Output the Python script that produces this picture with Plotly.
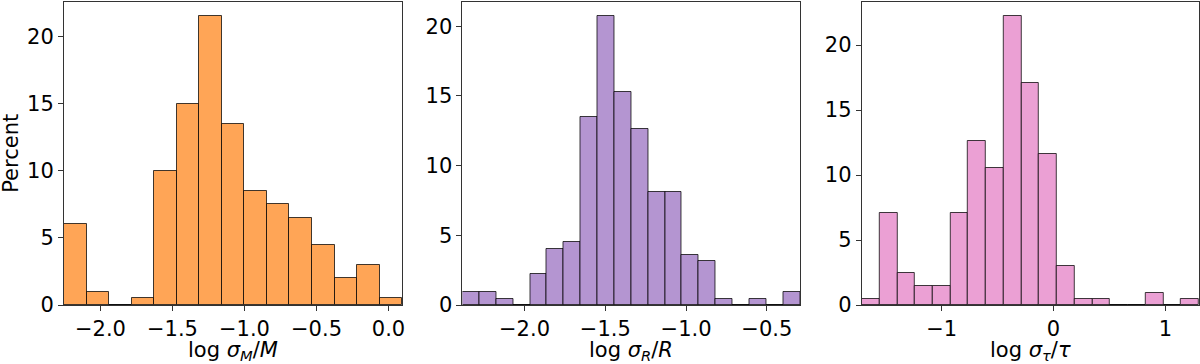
import numpy as np
import plotly.graph_objects as go

# ---- data (percent per bin) ----
mass_range = [-2.253, 0.095]
mass_pct = [6.0, 1.0, 0.0, 0.5, 10.0, 15.0, 21.5, 13.5, 8.5, 7.5, 6.5, 4.5, 2.0, 3.0, 0.5]

radius_range = [-2.384, -0.294]
radius_pct = [0.9, 0.9, 0.45, 0.0, 2.25, 4.05, 4.5, 13.5, 20.7, 15.3, 12.6, 8.1, 8.1,
              3.6, 3.15, 0.45, 0.0, 0.45, 0.0, 0.9]

age_range = [-1.714, 1.30]
age_pct = [0.47, 7.05, 2.5, 1.45, 1.45, 7.05, 12.6, 10.55, 22.2, 17.1, 11.6, 3.0,
           0.47, 0.47, 0.0, 0.0, 0.95, 0.0, 0.47]

mass_ticks = [-2.0, -1.5, -1.0, -0.5, 0.0]
mass_ticktext = ["\u22122.0", "\u22121.5", "\u22121.0", "\u22120.5", "0.0"]
radius_ticks = [-2.0, -1.5, -1.0, -0.5]
radius_ticktext = ["\u22122.0", "\u22121.5", "\u22121.0", "\u22120.5"]
age_ticks = [-1, 0, 1]
age_ticktext = ["\u22121", "0", "1"]
y_ticks = [0, 5, 10, 15, 20]

x_titles = ["log <i>σ<sub>M</sub></i>/<i>M</i>",
            "log <i>σ<sub>R</sub></i>/<i>R</i>",
            "log <i>σ<sub>τ</sub></i>/<i>τ</i>"]
y_title = "Percent"
colors = ["#FFA556", "#B495D1", "#EBA0D4"]

panels = [
    (mass_range, mass_pct, mass_ticks, mass_ticktext),
    (radius_range, radius_pct, radius_ticks, radius_ticktext),
    (age_range, age_pct, age_ticks, age_ticktext),
]

W, H = 1200, 364
ml, mr, mt, mb = 63.7, 1.0, 2.0, 59.0
pw = W - ml - mr
ph = H - mt - mb
px_domains = [(63.7, 402.0), (462.3, 800.0), (861.7, 1199.0)]
domains = [[(a - ml) / pw, (b - ml) / pw] for a, b in px_domains]

FONT = "DejaVu Sans"
FS = 21
fig = go.Figure()
layout = dict(
    width=W, height=H,
    margin=dict(l=ml, r=mr, t=mt, b=mb, autoexpand=False),
    paper_bgcolor="white", plot_bgcolor="white",
    showlegend=False, bargap=0,
    font=dict(family=FONT, size=FS, color="black"),
)
annotations = []

for i, (rng, pct, tv, tt) in enumerate(panels):
    n = len(pct)
    w = (rng[1] - rng[0]) / n
    centers = [rng[0] + (k + 0.5) * w for k in range(n)]
    ax = "" if i == 0 else str(i + 1)
    fig.add_trace(go.Bar(
        x=centers, y=pct, width=[w] * n,
        marker=dict(color=colors[i], line=dict(color="rgba(0,0,0,0.75)", width=1)),
        xaxis="x" + ax, yaxis="y" + ax, hoverinfo="skip",
    ))
    ymax = max(pct) * 1.05
    layout["xaxis" + ax] = dict(
        domain=domains[i], range=rng, anchor="y" + ax, automargin=False,
        tickvals=tv, ticktext=tt, ticks="outside", ticklen=5, tickwidth=1,
        tickcolor="#333", showline=True, linecolor="#333", linewidth=1, mirror=True,
        showgrid=False, zeroline=False, tickfont=dict(size=FS),
    )
    layout["yaxis" + ax] = dict(
        domain=[0, 1], range=[0, ymax], anchor="x" + ax, automargin=False,
        tickvals=y_ticks, ticks="outside", ticklen=5, tickwidth=1,
        tickcolor="#333", showline=True, linecolor="#333", linewidth=1, mirror=True,
        showgrid=False, zeroline=False, tickfont=dict(size=FS),
    )
    annotations.append(dict(
        text=x_titles[i], xref="paper", yref="paper",
        x=(domains[i][0] + domains[i][1]) / 2, y=(ph + mt - 350.5) / ph,
        xanchor="center", yanchor="middle", showarrow=False,
        borderpad=0, font=dict(size=FS),
    ))

annotations.append(dict(
    text=y_title, xref="paper", yref="paper", textangle=-90,
    x=(10 - ml) / pw, y=0.5, xanchor="center", yanchor="middle",
    showarrow=False, borderpad=0, font=dict(size=FS),
))
layout["annotations"] = annotations
fig.update_layout(**layout)
fig.write_html("out.html", config={"displayModeBar": False},
               post_script="document.body.style.margin='0';")
